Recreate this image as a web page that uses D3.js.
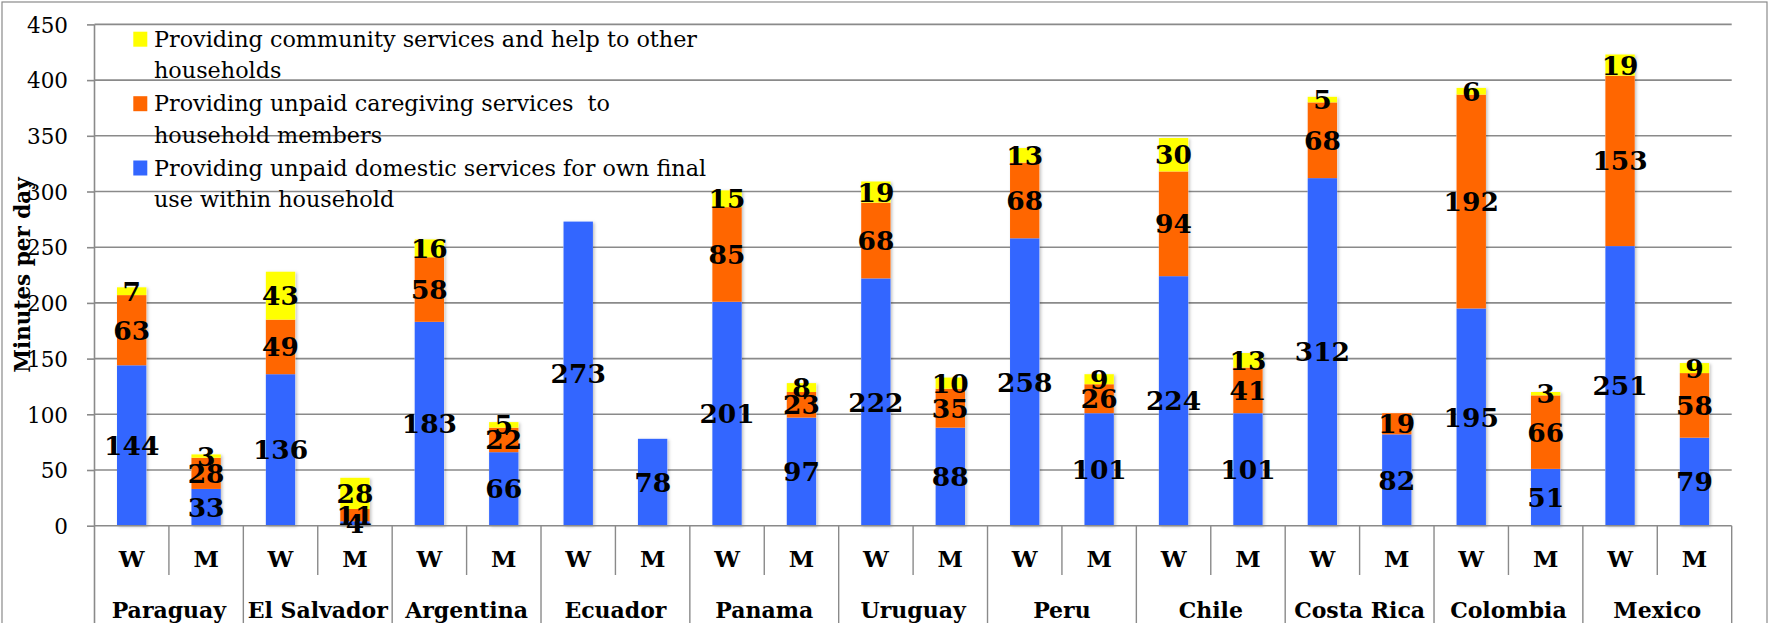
<!DOCTYPE html>
<html>
<head>
<meta charset="utf-8">
<script src="https://cdn.jsdelivr.net/npm/d3@7/dist/d3.min.js"></script>
<style>
  html, body { margin: 0; padding: 0; background: #fff; }
  svg { display: block; }
  text { font-family: "DejaVu Serif", "Liberation Serif", serif; }
</style>
</head>
<body>
<svg id="chart" width="1777" height="623"></svg>
<script>
// ---------- data ----------
const countries = ["Paraguay", "El Salvador", "Argentina", "Ecuador", "Panama", "Uruguay",
                   "Peru", "Chile", "Costa Rica", "Colombia", "Mexico"];
const sexes = ["W", "M"];
// order per country: W, M
const domestic   = [144, 33, 136, 4, 183, 66, 273, 78, 201, 97, 222, 88, 258, 101, 224, 101, 312, 82, 195, 51, 251, 79];
const caregiving = [63, 28, 49, 11, 58, 22, null, null, 85, 23, 68, 35, 68, 26, 94, 41, 68, 19, 192, 66, 153, 58];
const community  = [7, 3, 43, 28, 16, 5, null, null, 15, 8, 19, 10, 13, 9, 30, 13, 5, null, 6, 3, 19, 9];
const yTicks = [0, 50, 100, 150, 200, 250, 300, 350, 400, 450];
const seriesNames = [
  "Providing unpaid domestic services for own final use within household",
  "Providing unpaid caregiving services  to household members",
  "Providing community services and help to other households"
];
const legendLines = [
  ["Providing community services and help to other", "households"],
  ["Providing unpaid caregiving services  to", "household members"],
  ["Providing unpaid domestic services for own final", "use within household"]
];
const seriesColors = ["#3366FF", "#FF6600", "#FFFF00"];
const yTitle = "Minutes per day";

// ---------- layout ----------
const plotLeft = 94.5, plotRight = 1731.7, plotTop = 24.4, plotBottom = 525.7;
const gridColor = "#8a8a8a";

const svg = d3.select("#chart");

const defs = svg.append("defs");
const f = defs.append("filter").attr("id", "shadow")
  .attr("x", "-20%").attr("y", "-5%").attr("width", "150%").attr("height", "115%");
f.append("feDropShadow").attr("dx", 1.5).attr("dy", 1).attr("stdDeviation", 1.5)
  .attr("flood-color", "#000").attr("flood-opacity", 0.25);

// outer border
svg.append("rect").attr("x", 2).attr("y", 2).attr("width", 1765).attr("height", 640)
  .attr("fill", "none").attr("stroke", "#8a8a8a").attr("stroke-width", 1.2);

const slots = [];
countries.forEach(c => sexes.forEach(s => slots.push(c + "|" + s)));

const x = d3.scaleBand().domain(slots).range([plotLeft, plotRight]).padding(0);
const xCountry = d3.scaleBand().domain(countries).range([plotLeft, plotRight]).padding(0);
const y = d3.scaleLinear().domain([0, 450]).range([plotBottom, plotTop]);

const barW = x.bandwidth() * 0.395;

// gridlines
svg.append("g").selectAll("line").data(yTicks.filter(t => t > 0)).join("line")
  .attr("x1", plotLeft).attr("x2", plotRight)
  .attr("y1", d => y(d)).attr("y2", d => y(d))
  .attr("stroke", gridColor).attr("stroke-width", 1.6);

// y axis
const yAxis = d3.axisLeft(y).tickValues(yTicks).tickSize(7.5).tickPadding(19);
const gy = svg.append("g").attr("transform", `translate(${plotLeft},0)`).call(yAxis);
gy.select(".domain").remove();
gy.selectAll(".tick line").attr("stroke", gridColor).attr("stroke-width", 1.6);
gy.selectAll(".tick text").attr("font-family", "DejaVu Serif").attr("font-size", 21.5)
  .attr("fill", "#000").attr("dy", "0.36em");
svg.append("line").attr("x1", plotLeft).attr("x2", plotLeft).attr("y1", plotTop).attr("y2", 623)
  .attr("stroke", gridColor).attr("stroke-width", 1.6);

// stacked data
const rows = slots.map((k, i) => ({ key: k, vals: [domestic[i], caregiving[i], community[i]] }));
const segs = [];
rows.forEach(r => {
  let acc = 0;
  r.vals.forEach((v, si) => {
    if (v != null && v > 0) {
      segs.push({ key: r.key, s: si, y0: acc, y1: acc + v, v });
      acc += v;
    }
  });
});

const gBars = svg.append("g");
gBars.selectAll("rect.shadowbar").data(rows).join("rect")
  .attr("x", d => x(d.key) + (x.bandwidth() - barW) / 2)
  .attr("width", barW)
  .attr("y", d => y(d3.sum(d.vals.map(v => v || 0))))
  .attr("height", d => plotBottom - y(d3.sum(d.vals.map(v => v || 0))))
  .attr("fill", "#fff").attr("filter", "url(#shadow)");
gBars.selectAll("rect.seg").data(segs).join("rect")
  .attr("x", d => x(d.key) + (x.bandwidth() - barW) / 2)
  .attr("width", barW)
  .attr("y", d => y(d.y1))
  .attr("height", d => y(d.y0) - y(d.y1))
  .attr("fill", d => seriesColors[d.s]);

// x axis line
svg.append("line").attr("x1", plotLeft).attr("x2", plotRight).attr("y1", plotBottom).attr("y2", plotBottom)
  .attr("stroke", gridColor).attr("stroke-width", 1.6);

// separators
svg.append("g").selectAll("line").data(countries).join("line")
  .attr("x1", d => x(d + "|M")).attr("x2", d => x(d + "|M"))
  .attr("y1", plotBottom).attr("y2", 575)
  .attr("stroke", gridColor).attr("stroke-width", 1.4);
svg.append("g").selectAll("line").data(countries).join("line")
  .attr("x1", d => xCountry(d) + xCountry.bandwidth()).attr("x2", d => xCountry(d) + xCountry.bandwidth())
  .attr("y1", plotBottom).attr("y2", 623)
  .attr("stroke", gridColor).attr("stroke-width", 1.4);

// W/M labels
svg.append("g").selectAll("text").data(slots).join("text")
  .attr("x", d => x(d) + x.bandwidth() / 2).attr("y", 567)
  .attr("text-anchor", "middle").attr("font-weight", "bold").attr("font-size", 23)
  .text(d => d.split("|")[1]);

// country labels
svg.append("g").selectAll("text").data(countries).join("text")
  .attr("x", d => xCountry(d) + xCountry.bandwidth() / 2).attr("y", 618)
  .attr("text-anchor", "middle").attr("font-weight", "bold").attr("font-size", 22)
  .text(d => d);

// data labels
svg.append("g").selectAll("text").data(segs).join("text")
  .attr("x", d => x(d.key) + x.bandwidth() / 2)
  .attr("y", d => y((d.y0 + d.y1) / 2))
  .attr("dy", "0.36em")
  .attr("text-anchor", "middle").attr("font-weight", "bold").attr("font-size", 26.5)
  .attr("fill", "#000")
  .text(d => d.v);

// y title
svg.append("text")
  .attr("transform", `translate(30,${(plotTop + plotBottom) / 2}) rotate(-90)`)
  .attr("text-anchor", "middle").attr("font-weight", "bold").attr("font-size", 21.5)
  .text(yTitle);

// legend
const legColors = [seriesColors[2], seriesColors[1], seriesColors[0]];
const legBase = [46.7, 111.2, 175.5];
const lg = svg.append("g");
legendLines.forEach((lines, i) => {
  lg.append("rect").attr("x", 133.3).attr("y", legBase[i] - 15).attr("width", 14).attr("height", 15)
    .attr("fill", legColors[i]);
  lines.forEach((t, j) => {
    lg.append("text").attr("x", 154).attr("y", legBase[i] + j * 31.5)
      .attr("font-size", 22.3).style("white-space", "pre").attr("fill", "#000")
      .text(t);
  });
});
</script>
</body>
</html>
